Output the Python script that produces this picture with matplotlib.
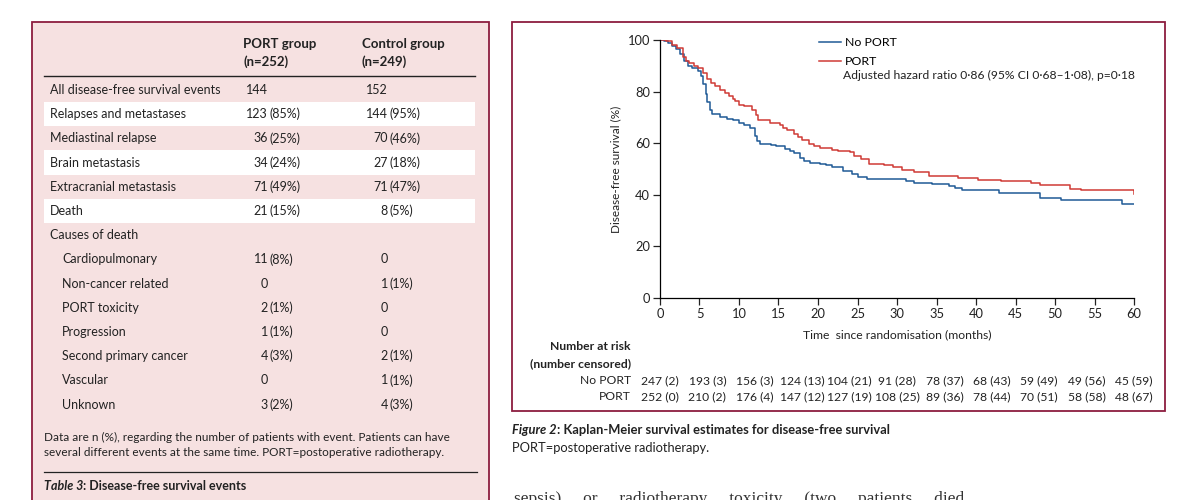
import matplotlib
matplotlib.use("Agg")
import matplotlib.pyplot as plt
from matplotlib.patches import Rectangle
from matplotlib.lines import Line2D
import matplotlib.transforms as mtrans

W, H = 1177, 500

# ---------------- data ----------------
noport_t = [0, 0.5, 1.0, 1.5, 2.0, 2.5, 3.0, 3.5, 4.0, 4.8, 5.2, 5.5, 5.8, 6.0, 6.3, 6.6,
            7.6, 8.5, 9.2, 10.0, 10.6, 11.4, 12.0, 12.3, 12.6, 14.0, 14.7, 15.8, 16.5, 16.9,
            17.7, 18.2, 19.0, 20.2, 21.0, 21.8, 23.2, 24.3, 25.1, 26.2, 28.9, 31.1, 32.2,
            34.4, 36.6, 37.4, 38.2, 42.9, 48.1, 50.8, 58.5, 60]
noport_s = [100, 99.6, 99, 97.5, 96.5, 94.5, 92, 90, 89, 87.8, 86, 83, 79, 76, 73, 71.3,
            70, 69.5, 68.9, 68, 67.2, 65.9, 62.7, 61, 59.5, 59.2, 58.8, 57.8, 57, 56.2,
            54.3, 53, 52.5, 52.1, 51.5, 50.7, 49.2, 48.1, 46.8, 46.2, 46.0, 45.3, 44.7,
            44.3, 43.4, 42.5, 41.7, 40.8, 38.9, 37.8, 36.6, 36.6]
port_t = [0, 0.8, 1.5, 2.1, 2.9, 3.3, 3.7, 4.3, 4.8, 5.4, 6.0, 6.5, 7.0, 7.6, 8.2, 8.7,
          9.2, 9.5, 10.0, 10.6, 11.7, 12.1, 12.4, 13.9, 15.2, 15.6, 16.1, 16.9, 17.5, 18.0,
          18.8, 19.5, 20.2, 21.8, 22.5, 24.0, 24.5, 25.4, 26.5, 28.4, 29.5, 30.6, 32.2,
          34.1, 37.7, 40.2, 43.2, 47.0, 48.1, 51.9, 53.3, 59.9, 60]
port_s = [100, 99.5, 98, 97, 93.6, 92, 91.2, 90, 89, 87.4, 85, 83.3, 82, 80.7, 79.5, 78.4,
          77, 76.2, 75, 74.3, 73, 71, 68.9, 67.8, 67.2, 66, 65.3, 63.6, 62.5, 61.4,
          59.5, 58.8, 58.2, 57.3, 57.0, 56.5, 55, 53.7, 52, 51.7, 50.8, 49.8, 48.8,
          47.2, 46.6, 45.7, 45.3, 44.7, 43.8, 42.3, 41.7, 41.7, 40.4]

risk_times = [0, 6, 12, 18, 24, 30, 36, 42, 48, 54, 60]
risk_noport = ["247 (2)", "193 (3)", "156 (3)", "124 (13)", "104 (21)", "91 (28)",
               "78 (37)", "68 (43)", "59 (49)", "49 (56)", "45 (59)"]
risk_port = ["252 (0)", "210 (2)", "176 (4)", "147 (12)", "127 (19)", "108 (25)",
             "89 (36)", "78 (44)", "70 (51)", "58 (58)", "48 (67)"]

xticks = list(range(0, 61, 5))
yticks = [0, 20, 40, 60, 80, 100]

table_rows = ["All disease-free survival events", "Relapses and metastases",
              "Mediastinal relapse", "Brain metastasis", "Extracranial metastasis",
              "Death", "Causes of death", "Cardiopulmonary", "Non-cancer related",
              "PORT toxicity", "Progression", "Second primary cancer", "Vascular", "Unknown"]
table_indent = [0, 0, 0, 0, 0, 0, 0, 1, 1, 1, 1, 1, 1, 1]
table_port = ["144", "123 (85%)", "36 (25%)", "34 (24%)", "71 (49%)", "21 (15%)", "",
              "11 (8%)", "0", "2 (1%)", "1 (1%)", "4 (3%)", "0", "3 (2%)"]
table_control = ["152", "144 (95%)", "70 (46%)", "27 (18%)", "71 (47%)", "8 (5%)", "",
                 "0", "1 (1%)", "0", "0", "2 (1%)", "1 (1%)", "4 (3%)"]
table_white = [False, True, False, True, False, True, False,
               False, False, False, False, False, False, False]

# ---------------- style ----------------
CF = ['Lato', 'DejaVu Sans']   # chart font
TF = ['Lato', 'DejaVu Sans']   # table font
BORDER = '#8c1d3f'
PINK = '#f6e1e1'
BLUE = '#1f5a96'
RED = '#cf3a36'
TXT = '#222222'

fig = plt.figure(figsize=(W / 100, H / 100), dpi=100)
fig.patch.set_facecolor('white')


def fx(x):
    return x / W


def fy(y):
    return 1 - y / H


# ---------------- left table panel ----------------
fig.patches.append(Rectangle((fx(32), fy(520)), fx(489 - 32), (520 - 22) / H,
                             transform=fig.transFigure, facecolor=PINK,
                             edgecolor=BORDER, linewidth=1.3, zorder=0))
for txt, x, y in (("PORT group", 243, 44), ("(n=252)", 243, 62),
                  ("Control group", 362, 44), ("(n=249)", 362, 62)):
    fig.text(fx(x), fy(y), txt, fontsize=9.5, fontweight='bold', family=TF,
             va='center', ha='left', color=TXT)
fig.add_artist(Line2D([fx(44), fx(475)], [fy(75.5), fy(75.5)], transform=fig.transFigure,
                      color=TXT, linewidth=1.0))

row_y0, row_dy = 90, 24.2
for i, lab in enumerate(table_rows):
    y = row_y0 + i * row_dy
    if table_white[i]:
        fig.patches.append(Rectangle((fx(44), fy(y + 12)), fx(475 - 44), row_dy / H,
                                     transform=fig.transFigure, facecolor='white',
                                     edgecolor='none', zorder=0.5))
    x0 = 50 + 12 * table_indent[i]
    fig.text(fx(x0), fy(y), lab, fontsize=9, family=TF, va='center', ha='left', color=TXT)
    for val, xr in ((table_port[i], 268), (table_control[i], 388)):
        if not val:
            continue
        parts = val.split(' ', 1)
        fig.text(fx(xr), fy(y), parts[0], fontsize=9, family=TF, va='center',
                 ha='right', color=TXT)
        if len(parts) > 1:
            fig.text(fx(xr + 2), fy(y), parts[1], fontsize=9, family=TF, va='center',
                     ha='left', color=TXT)

fig.text(fx(44), fy(437), "Data are n (%), regarding the number of patients with event. "
         "Patients can have", fontsize=8.5, family=TF, va='center', ha='left', color=TXT)
fig.text(fx(44), fy(452), "several different events at the same time. "
         "PORT=postoperative radiotherapy.", fontsize=8.5, family=TF, va='center',
         ha='left', color=TXT)
fig.add_artist(Line2D([fx(44), fx(477)], [fy(472), fy(472)], transform=fig.transFigure,
                      color=TXT, linewidth=0.9))
fig.text(fx(44), fy(486), "Table 3", fontsize=9, family=TF, fontweight='bold',
         style='italic', va='center', ha='left', color=TXT)
fig.text(fx(83), fy(486), ": Disease-free survival events", fontsize=9, family=TF,
         fontweight='bold', va='center', ha='left', color=TXT)

# ---------------- right figure panel ----------------
fig.patches.append(Rectangle((fx(512), fy(411)), fx(1165 - 512), (411 - 22) / H,
                             transform=fig.transFigure, facecolor='white',
                             edgecolor=BORDER, linewidth=1.3, zorder=0))

ax = fig.add_axes([fx(660), fy(298), fx(1134 - 660), (298 - 40) / H])
ax.set_zorder(2)
ax.set_facecolor('none')
l1, = ax.plot(noport_t, noport_s, drawstyle='steps-post', color=BLUE, linewidth=1.1,
              label='No PORT')
l2, = ax.plot(port_t, port_s, drawstyle='steps-post', color=RED, linewidth=1.1,
              label='PORT')
ax.set_xlim(0, 60)
ax.set_ylim(0, 100)
ax.set_xticks(xticks)
ax.set_yticks(yticks)
for s in ('top', 'right'):
    ax.spines[s].set_visible(False)
for s in ('left', 'bottom'):
    ax.spines[s].set_linewidth(0.9)
ax.tick_params(axis='both', direction='out', length=5, width=0.9, labelsize=9.3,
               colors=TXT, pad=2)
for lbl in ax.get_xticklabels() + ax.get_yticklabels():
    lbl.set_family(CF)
ax.set_ylabel("Disease-free survival (%)", fontsize=8.5, family=CF, color=TXT,
              labelpad=5)
ax.set_xlabel("Time  since randomisation (months)", fontsize=8.7, family=CF,
              color=TXT, labelpad=7)

leg = ax.legend(handles=[l1, l2], loc='upper left', bbox_to_anchor=(0.335, 1.01),
                frameon=False, handlelength=1.8, handletextpad=0.3,
                labelspacing=0.62, borderaxespad=0, borderpad=0,
                prop={'family': CF, 'size': 8.9})
fig.text(fx(843), fy(75), "Adjusted hazard ratio 0·86 (95% CI 0·68–1·08), p=0·18",
         fontsize=8.7, family=CF, va='center', ha='left', color=TXT)

# number at risk
fig.text(fx(631), fy(347), "Number at risk", fontsize=8.7, family=CF, fontweight='bold',
         va='center', ha='right', color=TXT)
fig.text(fx(631), fy(364), "(number censored)", fontsize=8.7, family=CF, fontweight='bold',
         va='center', ha='right', color=TXT)
fig.text(fx(631), fy(381), "No PORT", fontsize=8.7, family=CF, va='center', ha='right',
         color=TXT)
fig.text(fx(631), fy(397), "PORT", fontsize=8.7, family=CF, va='center', ha='right',
         color=TXT)
tr = mtrans.blended_transform_factory(ax.transData, fig.transFigure)
for t, a, b in zip(risk_times, risk_noport, risk_port):
    ax.text(t, fy(381), a, transform=tr, fontsize=8.7, family=CF, va='center',
            ha='center', color=TXT, clip_on=False)
    ax.text(t, fy(397), b, transform=tr, fontsize=8.7, family=CF, va='center',
            ha='center', color=TXT, clip_on=False)

# caption
fig.text(fx(512), fy(430), "Figure 2", fontsize=9.3, family=CF, fontweight='bold',
         style='italic', va='center', ha='left', color=TXT)
fig.text(fx(557), fy(430), ": Kaplan-Meier survival estimates for disease-free survival",
         fontsize=9.3, family=CF, fontweight='bold', va='center', ha='left', color=TXT)
fig.text(fx(512), fy(448), "PORT=postoperative radiotherapy.", fontsize=9.3, family=CF,
         va='center', ha='left', color=TXT)

# cut-off body text at the bottom
fig.text(fx(514), fy(503),
         "sepsis)     or     radiotherapy     toxicity     (two     patients     died",
         fontsize=12.5, family=['Liberation Serif', 'DejaVu Serif'], va='baseline',
         ha='left', color='#333333')

fig.savefig("out.png", dpi=100, facecolor='white')
